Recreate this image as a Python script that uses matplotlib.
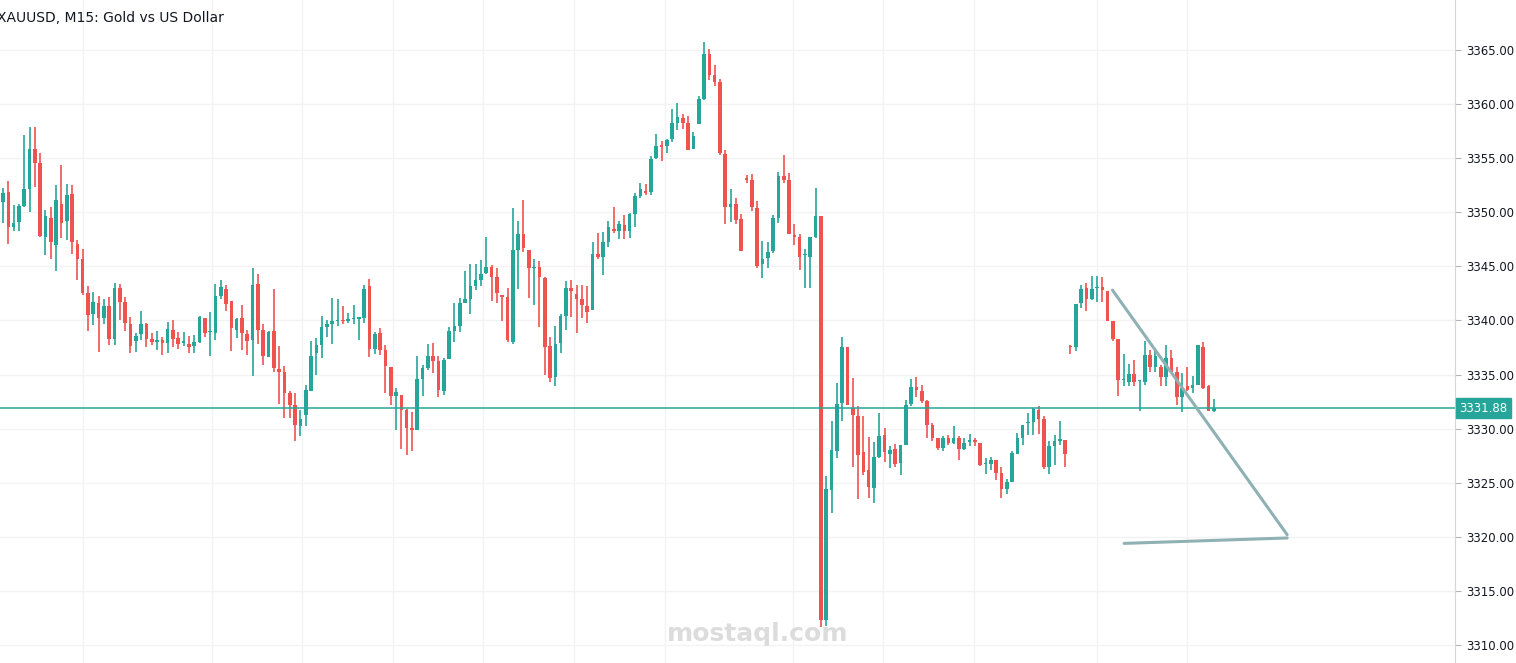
import matplotlib
matplotlib.use("Agg")
import matplotlib.pyplot as plt
import numpy as np

O = [3350.9,3351.9,3348.6,3349.1,3350.6,3352.15,3355.8,3354.5,3347.7,3349.5,3347.0,3350.8,3349.2,3351.7,3347.1,3345.7,3342.5,3340.6,3341.6,3340.25,
3341.3,3338.3,3343.0,3341.7,3339.7,3338.1,3338.7,3339.7,3338.3,3338.0,3338.15,3337.95,3339.1,3338.4,3337.95,3337.8,3337.6,3338.05,3340.2,3338.9,
3338.85,3342.3,3342.9,3341.8,3339.15,3340.2,3338.7,3338.15,3343.4,3339.15,3336.65,3339.0,3335.5,3335.2,3333.3,3332.2,3330.2,3331.3,3333.5,3337.0,
3337.7,3339.4,3339.7,3339.95,3340.05,3339.95,3340.1,3340.15,3340.25,3343.2,3337.4,3338.85,3337.3,3335.7,3333.05,3333.1,3331.75,3330.1,3329.9,3334.6,
3335.6,3336.7,3336.25,3333.5,3336.45,3339.05,3339.5,3341.6,3342.0,3343.2,3343.7,3344.4,3344.9,3344.05,3342.3,3342.2,3338.05,3346.5,3347.95,3346.5,
3344.8,3344.9,3343.9,3337.65,3334.8,3337.95,3340.4,3343.0,3342.45,3342.0,3341.3,3341.0,3346.15,3345.9,3347.2,3348.35,3348.3,3348.8,3348.3,3349.8,
3351.5,3351.9,3351.9,3355.0,3356.1,3356.1,3356.8,3358.2,3358.7,3358.2,3355.8,3358.1,3360.5,3364.6,3362.7,3362.0,3355.4,3350.5,3350.8,3349.4,
3353.1,3353.0,3350.4,3345.2,3345.8,3346.4,3349.5,3353.3,3353.0,3347.9,3347.7,3346.0,3345.9,3347.75,3349.6,3312.3,3324.3,3327.9,3332.35,3337.55,
3331.9,3331.2,3327.8,3326.2,3324.55,3327.4,3329.4,3327.7,3328.1,3326.85,3328.5,3332.3,3333.85,3333.5,3332.6,3330.35,3329.1,3328.25,3329.15,3328.7,
3329.1,3328.15,3328.8,3328.85,3328.7,3326.75,3326.75,3327.1,3325.9,3324.4,3325.1,3327.65,3329.1,3330.5,3330.65,3331.75,3330.9,3326.45,3328.4,3328.9,
3328.95,3337.6,3337.5,3341.65,3342.95,3341.95,3342.95,3343.05,3342.75,3339.9,3338.3,3334.5,3334.3,3335.05,3334.4,3334.35,3336.8,3335.7,3335.7,3334.8,
3336.5,3335.2,3332.9,3333.95,3333.8,3334.05,3337.5,3333.9,3331.6]
C = [3351.75,3348.6,3349.0,3350.55,3352.15,3355.8,3354.5,3347.8,3349.65,3347.2,3351.1,3349.0,3351.6,3347.2,3345.7,3342.5,3340.5,3341.7,3340.25,3341.3,
3338.3,3343.0,3341.7,3339.8,3337.6,3338.6,3339.7,3338.3,3338.05,3338.15,3337.95,3339.2,3338.3,3337.8,3338.0,3337.5,3338.0,3340.3,3338.8,3338.9,
3342.3,3343.1,3341.55,3339.3,3340.1,3338.8,3338.1,3343.25,3339.15,3336.75,3338.9,3335.6,3335.2,3333.3,3332.2,3330.3,3330.9,3333.6,3336.7,3337.7,
3339.4,3339.7,3339.95,3340.05,3339.9,3340.1,3340.15,3340.2,3342.9,3337.4,3338.75,3337.3,3335.8,3333.05,3333.4,3331.75,3330.1,3329.9,3334.6,3335.6,
3336.7,3336.25,3333.6,3336.35,3339.0,3339.5,3341.6,3342.0,3343.2,3343.7,3344.3,3344.95,3344.05,3342.5,3342.2,3338.2,3346.5,3347.95,3346.65,3344.8,
3344.9,3344.0,3337.5,3334.7,3337.8,3340.4,3343.0,3342.7,3342.0,3341.45,3340.8,3346.15,3345.9,3347.25,3348.65,3348.3,3348.9,3348.3,3349.8,3351.5,
3352.15,3351.8,3354.9,3356.1,3356.05,3356.7,3358.2,3358.8,3358.2,3355.7,3357.0,3360.5,3364.6,3362.7,3362.0,3355.5,3350.5,3350.8,3349.3,3346.4,
3353.0,3350.5,3345.0,3345.65,3346.3,3349.5,3353.3,3353.0,3348.0,3347.75,3345.9,3346.05,3347.7,3349.6,3312.3,3324.4,3328.0,3332.3,3337.5,3332.2,
3331.3,3327.6,3326.0,3324.6,3327.4,3329.35,3327.8,3328.0,3326.75,3328.5,3332.2,3333.85,3333.6,3332.6,3330.3,3329.1,3328.25,3329.15,3328.7,3329.1,
3328.15,3328.7,3328.85,3328.8,3326.65,3326.8,3327.1,3325.9,3324.4,3325.1,3327.75,3329.1,3330.35,3330.55,3331.85,3330.85,3326.45,3328.4,3328.9,3328.95,
3327.7,3337.5,3341.5,3342.9,3341.95,3342.9,3343.05,3342.8,3339.95,3338.3,3334.5,3334.6,3335.05,3334.3,3334.4,3336.8,3335.7,3336.7,3334.8,3336.5,
3335.2,3332.95,3333.8,3333.6,3334.05,3337.7,3333.8,3331.65,3331.9]
H = [3352.2,3352.9,3350.7,3350.8,3357.1,3357.9,3357.9,3355.5,3350.2,3350.45,3352.5,3354.4,3352.6,3352.5,3347.4,3346.6,3343.2,3342.6,3342.3,3341.95,
3342.2,3343.45,3343.4,3342.15,3340.3,3338.8,3340.9,3339.8,3338.8,3339.0,3338.5,3339.85,3340.05,3338.9,3338.9,3338.6,3338.65,3340.45,3340.2,3340.8,
3343.4,3343.75,3343.3,3341.8,3340.2,3341.4,3339.1,3344.8,3344.3,3339.7,3339.0,3342.9,3337.6,3335.8,3333.5,3333.3,3331.7,3334.0,3338.1,3338.4,
3340.45,3340.05,3342.1,3341.99,3341.35,3340.7,3341.4,3340.2,3343.3,3343.8,3338.97,3339.3,3337.7,3335.7,3333.8,3333.1,3331.85,3331.5,3336.7,3335.9,
3337.8,3337.95,3336.7,3336.5,3339.4,3341.6,3342.1,3344.6,3345.2,3345.2,3345.6,3347.7,3345.1,3344.85,3342.3,3343.0,3350.4,3349.2,3351.1,3346.5,
3345.7,3345.5,3344.0,3338.5,3339.5,3340.6,3343.6,3343.7,3343.3,3343.3,3343.2,3347.2,3348.1,3348.2,3349.2,3350.5,3349.2,3349.7,3349.9,3351.8,
3352.7,3352.6,3355.2,3357.2,3356.6,3356.8,3359.5,3360.1,3359.1,3358.9,3357.4,3360.7,3365.7,3365.1,3363.6,3362.3,3355.7,3352.1,3351.3,3349.8,
3353.4,3353.5,3351.0,3347.35,3347.25,3349.75,3353.7,3355.3,3353.6,3348.9,3348.0,3346.6,3347.75,3352.2,3349.6,3325.6,3330.7,3334.2,3338.5,3337.55,
3334.7,3332.1,3331.2,3329.2,3328.8,3331.45,3330.05,3328.4,3328.6,3328.5,3332.65,3334.6,3334.8,3334.0,3332.65,3330.5,3329.1,3329.35,3329.4,3330.25,
3329.3,3329.1,3329.5,3329.1,3328.7,3327.25,3327.35,3327.1,3326.45,3325.35,3327.95,3329.6,3330.35,3331.45,3331.95,3332.05,3331.2,3328.9,3329.4,3330.7,
3328.95,3337.7,3341.5,3343.3,3343.45,3344.1,3344.1,3344.05,3342.75,3339.9,3338.3,3336.9,3336.0,3336.3,3334.4,3338.1,3337.3,3337.4,3335.9,3337.7,
3337.3,3335.7,3335.1,3335.7,3334.9,3337.7,3338.05,3334.05,3332.7]
L = [3349.0,3347.1,3348.3,3348.3,3350.5,3350.05,3352.3,3347.7,3346.05,3345.7,3344.6,3347.65,3347.4,3346.15,3343.7,3342.35,3339.0,3339.6,3337.1,3339.7,
3337.7,3337.7,3340.05,3339.05,3337.0,3337.1,3338.2,3337.55,3337.7,3337.3,3336.8,3336.95,3337.5,3337.35,3337.65,3336.95,3336.95,3337.95,3338.5,3336.75,
3338.2,3342.0,3340.9,3337.2,3338.4,3337.3,3336.8,3334.9,3337.8,3335.9,3336.65,3335.2,3332.3,3331.0,3331.0,3328.9,3329.3,3330.2,3333.5,3334.95,
3336.55,3338.5,3337.85,3339.5,3339.7,3339.8,3339.7,3338.2,3339.8,3336.65,3336.9,3336.8,3333.3,3332.2,3329.9,3328.1,3327.6,3327.97,3329.9,3333.05,
3335.4,3335.1,3332.9,3333.15,3336.4,3338.05,3338.97,3341.65,3340.6,3342.8,3343.2,3344.3,3341.75,3341.65,3339.9,3338.05,3337.8,3342.9,3346.35,3342.1,
3341.45,3339.4,3335.0,3334.3,3333.9,3337.0,3339.1,3340.35,3338.8,3340.25,3339.8,3341.0,3345.7,3344.2,3346.8,3348.1,3347.5,3347.5,3347.6,3348.6,
3351.35,3351.6,3351.6,3354.9,3354.7,3355.5,3356.5,3357.55,3357.7,3355.7,3355.8,3358.1,3360.4,3362.2,3361.7,3355.3,3348.9,3349.1,3348.9,3346.4,
3352.7,3350.1,3344.8,3343.95,3344.8,3346.2,3349.0,3352.7,3348.0,3347.0,3344.7,3343.0,3343.0,3347.65,3311.7,3311.75,3322.2,3327.25,3330.7,3332.2,
3326.5,3323.5,3325.75,3323.6,3323.15,3327.3,3326.9,3326.4,3326.5,3325.75,3328.5,3332.1,3332.9,3332.4,3329.1,3328.9,3328.05,3327.9,3328.5,3328.6,
3327.1,3328.05,3328.4,3328.4,3326.55,3325.8,3326.2,3325.3,3323.6,3323.95,3325.1,3327.65,3328.5,3329.4,3329.4,3329.5,3326.3,3325.8,3326.65,3328.5,
3326.5,3336.9,3337.2,3341.1,3340.9,3341.9,3341.7,3341.7,3339.9,3338.1,3333.0,3333.9,3333.9,3333.9,3331.6,3334.05,3335.2,3335.2,3333.9,3333.9,
3335.1,3332.2,3331.5,3333.5,3333.3,3334.05,3333.7,3331.6,3331.5]

last_price = 3331.88
price_ticks = [3310, 3315, 3320, 3325, 3330, 3335, 3340, 3345, 3350, 3355, 3360, 3365]
trend1 = ([208.9, 241.8], [3342.8, 3320.2])
trend2 = ([211.1, 241.8], [3319.4, 3319.9])
vgrid_idx = [15.1, 39.4, 56.3, 73.4, 90.4, 107.5, 124.7, 148.8, 165.7, 182.9, 206.0, 223.0]

GREEN, RED = "#26a69a", "#ef5350"
W, Hh = 1516, 663
fig = plt.figure(figsize=(W/100, H_ := Hh/100), dpi=100)
ax = fig.add_axes([0, 0, 1455/W, 1])
n = len(C)
x = np.arange(n)
cols = [GREEN if c >= o else RED for o, c in zip(O, C)]
for xv in vgrid_idx:
    ax.axvline(xv, color="#f3f3f5", lw=1, zorder=0)
for p in price_ticks:
    ax.axhline(p, color="#f3f3f5", lw=1, zorder=0)
ax.vlines(x, L, H, colors=cols, lw=1.2, zorder=2)
bott = np.minimum(O, C)
hts = np.maximum(np.abs(np.array(C) - np.array(O)), 0.12)
ax.bar(x, hts, bottom=bott, width=0.68, color=cols, zorder=3, linewidth=0)
ax.axhline(last_price, color=GREEN, lw=1.1, zorder=4)
ax.plot(*trend1, color="#8fb1b3", lw=2.2, zorder=5, solid_capstyle="round")
ax.plot(*trend2, color="#8fb1b3", lw=2.2, zorder=5, solid_capstyle="round")

ax.set_xlim(-0.565, 273.4)
ax.set_ylim(3308.35, 3369.6)
ax.yaxis.tick_right()
ax.set_yticks(price_ticks)
ax.set_yticklabels([f"{p:.2f}" for p in price_ticks], fontsize=8.5, color="#131722")
ax.tick_params(axis="y", length=4, color="#b2b5be", pad=4)
ax.set_xticks([])
for s in ["top", "left", "bottom"]:
    ax.spines[s].set_visible(False)
ax.spines["right"].set_color("#d6d6d6")
ax.text(1.003, last_price, f"{last_price:.2f}", transform=ax.get_yaxis_transform(),
        fontsize=8.5, color="white", va="center", ha="left",
        bbox=dict(boxstyle="square,pad=0.3", fc=GREEN, ec=GREEN), clip_on=False)
fig.text(-3/W, 1 - 18/Hh, "XAUUSD, M15: Gold vs US Dollar", fontsize=10, color="#131722", va="center")
fig.text(758/W, 1 - 634/Hh, "mostaql.com", fontsize=18, fontweight="bold", color="#dcdcdc", ha="center", va="center", zorder=1)
fig.savefig("out.png", dpi=100)
